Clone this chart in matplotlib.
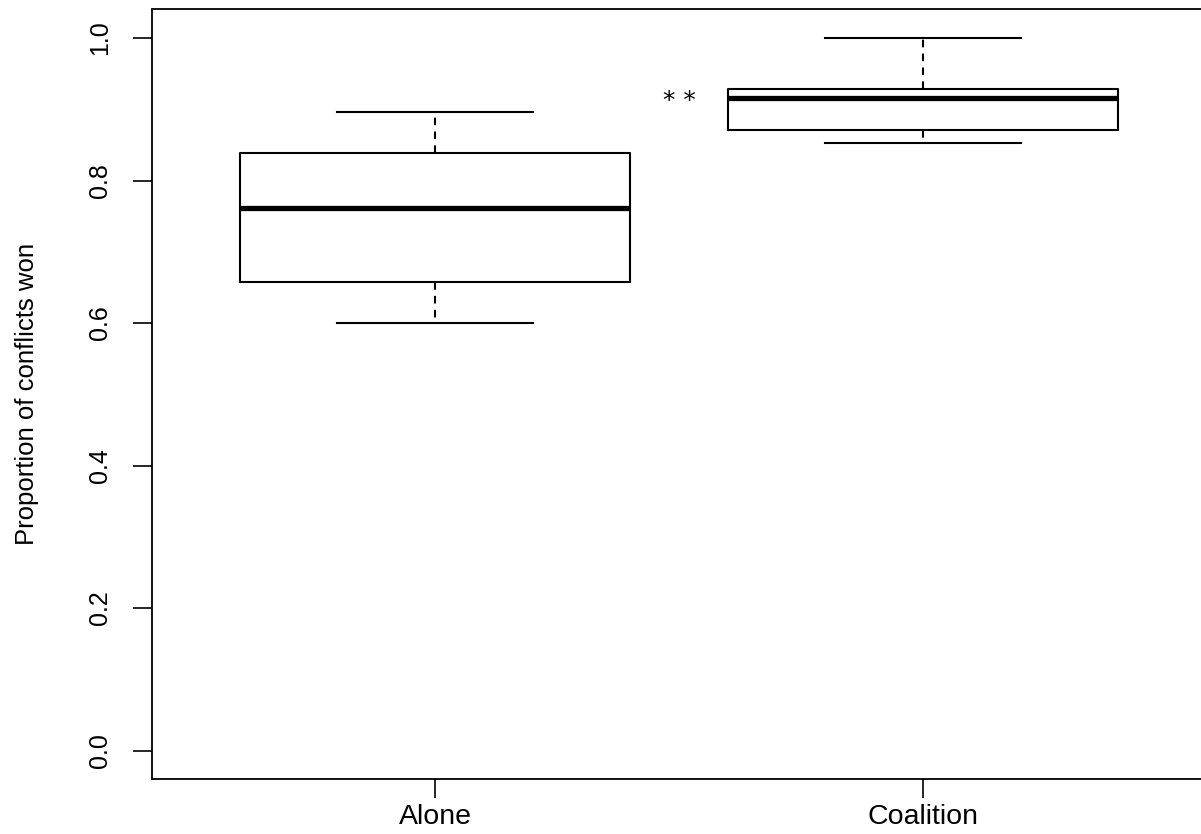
import matplotlib
matplotlib.use('Agg')
import matplotlib.pyplot as plt

# group summaries
groups = ['Alone', 'Coalition']
whisker_low = [0.600, 0.853]
q1 = [0.658, 0.871]
median = [0.761, 0.916]
q3 = [0.838, 0.929]
whisker_high = [0.896, 1.000]
y_ticks = [0.0, 0.2, 0.4, 0.6, 0.8, 1.0]
y_labels = ['0.0', '0.2', '0.4', '0.6', '0.8', '1.0']
star_text = '* *'
star_pos = (1.5, 0.912)

plt.rcParams['font.family'] = ['Liberation Sans', 'DejaVu Sans']
plt.rcParams['lines.scale_dashes'] = False

fig = plt.figure(figsize=(12.01, 8.34), dpi=100)
# R style: x range 0.5..2.5 widened by 4%, right edge falls just off the picture
ax = fig.add_axes([152 / 1201, 55 / 834, 1054 / 1201, 769.5 / 834])

stats = []
for i in range(len(groups)):
    stats.append({'label': groups[i], 'whislo': whisker_low[i], 'q1': q1[i],
                  'med': median[i], 'q3': q3[i], 'whishi': whisker_high[i],
                  'fliers': []})

ax.bxp(stats, positions=[1, 2], widths=0.8, capwidths=0.4, showfliers=False,
       boxprops=dict(color='black', linewidth=1.5),
       medianprops=dict(color='black', linewidth=3.8, solid_capstyle='butt'),
       whiskerprops=dict(color='black', linewidth=1.5, linestyle=(0, (5.5, 4.5))),
       capprops=dict(color='black', linewidth=1.5))

ax.text(star_pos[0], star_pos[1], star_text, ha='center', va='center',
        fontsize=18, family='DejaVu Sans')

ax.set_xlim(0.42, 2.58)
ax.set_ylim(-0.04, 1.04)
ax.set_xticks([1, 2])
ax.set_xticklabels(groups, fontsize=20.5)
ax.set_yticks(y_ticks)
ax.set_yticklabels(y_labels, fontsize=18, rotation=90, va='center')
ax.tick_params(axis='both', length=14, width=1.2, color='black')
ax.tick_params(axis='x', pad=4)
ax.tick_params(axis='y', pad=15)
ax.set_ylabel('Proportion of conflicts won', fontsize=18.5, labelpad=35)
for s in ax.spines.values():
    s.set_linewidth(1.3)

fig.savefig('out.png', dpi=100)
